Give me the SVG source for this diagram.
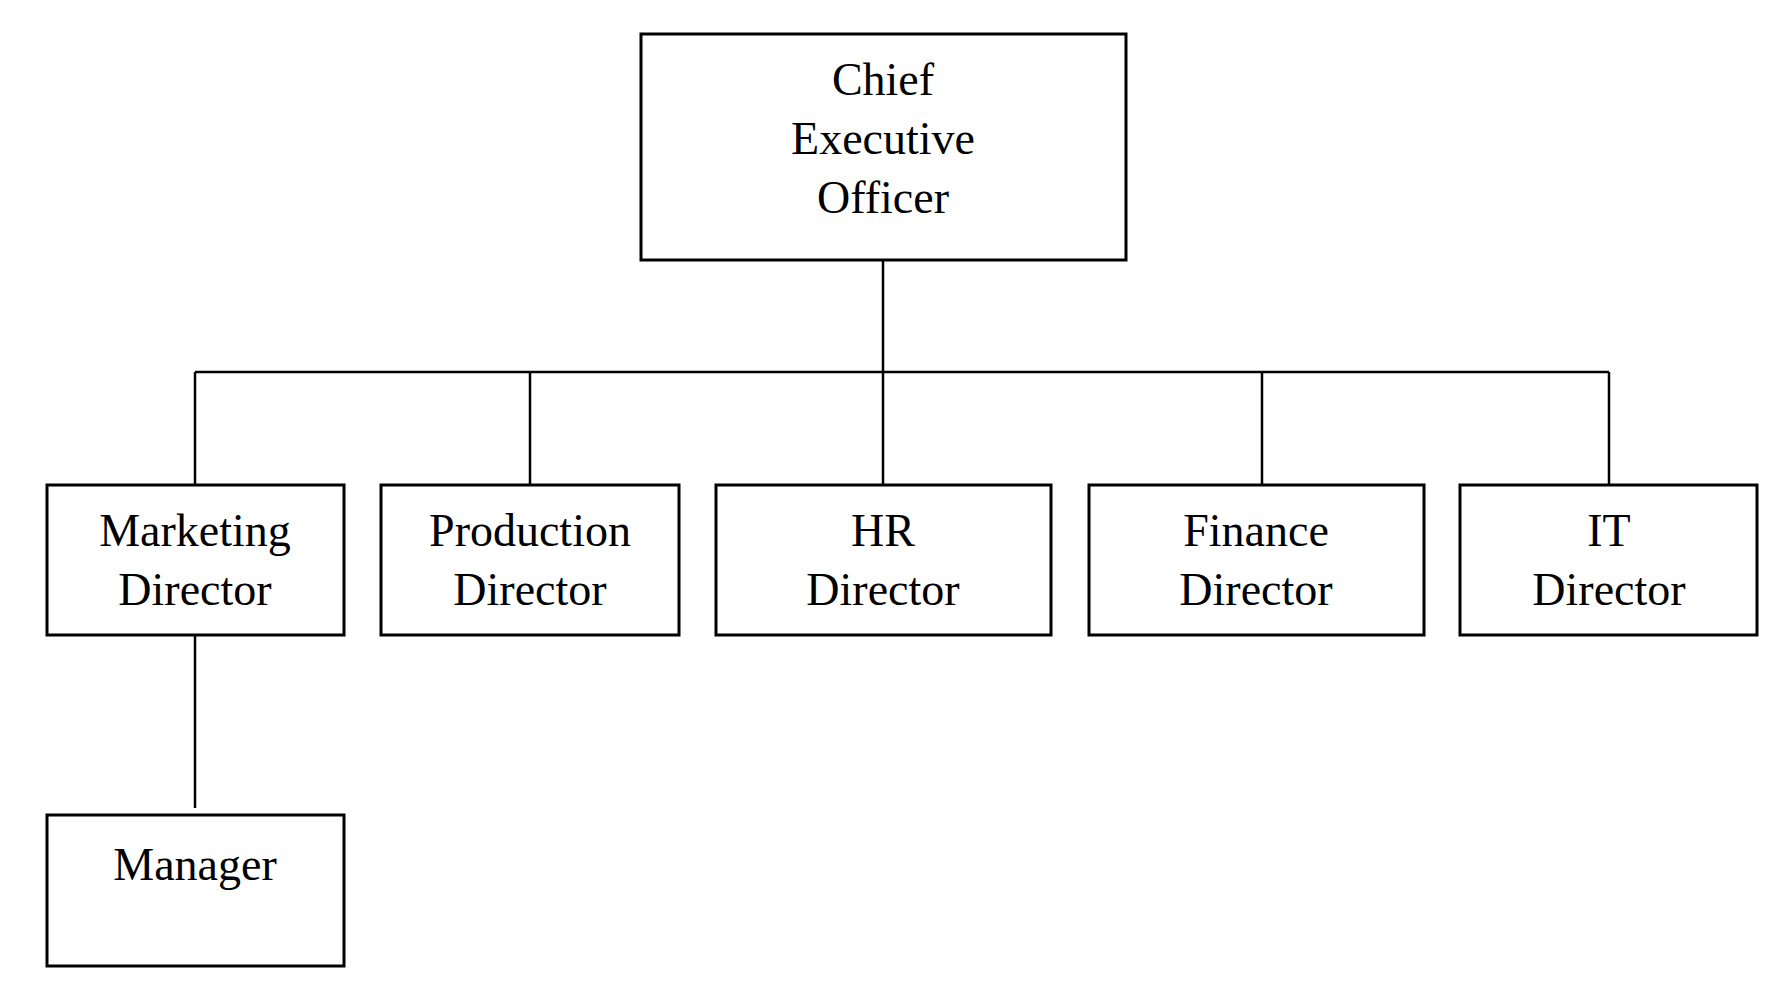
<svg xmlns="http://www.w3.org/2000/svg" width="1771" height="1005" viewBox="0 0 1771 1005">
<style>
rect{fill:#fff;stroke:#000;stroke-width:3}
line{stroke:#000;stroke-width:2.5}
text{font-family:"Liberation Serif","Times New Roman",serif;font-size:46px;text-anchor:middle;fill:#000}
</style>
<rect x="0" y="0" width="1771" height="1005" style="stroke:none"/>
<g id="connectors">
<line x1="883" y1="260" x2="883" y2="485"/>
<line x1="195" y1="372" x2="1609" y2="372"/>
<line x1="195" y1="372" x2="195" y2="485"/>
<line x1="530" y1="372" x2="530" y2="485"/>
<line x1="1262" y1="372" x2="1262" y2="485"/>
<line x1="1609" y1="372" x2="1609" y2="485"/>
<line x1="195" y1="632" x2="195" y2="808"/>
</g>
<g id="ceo"><rect x="641" y="34" width="485" height="226"/>
<text x="883" y="95">Chief</text><text x="883" y="154">Executive</text><text x="883" y="213">Officer</text></g>
<g id="marketing"><rect x="47" y="485" width="297" height="150"/>
<text x="195" y="546">Marketing</text><text x="195" y="605">Director</text></g>
<g id="production"><rect x="381" y="485" width="298" height="150"/>
<text x="530" y="546">Production</text><text x="530" y="605">Director</text></g>
<g id="hr"><rect x="716" y="485" width="335" height="150"/>
<text x="883" y="546">HR</text><text x="883" y="605">Director</text></g>
<g id="finance"><rect x="1089" y="485" width="335" height="150"/>
<text x="1256" y="546">Finance</text><text x="1256" y="605">Director</text></g>
<g id="it"><rect x="1460" y="485" width="297" height="150"/>
<text x="1609" y="546">IT</text><text x="1609" y="605">Director</text></g>
<g id="manager"><rect x="47" y="815" width="297" height="151"/>
<text x="195" y="880">Manager</text></g>
</svg>
